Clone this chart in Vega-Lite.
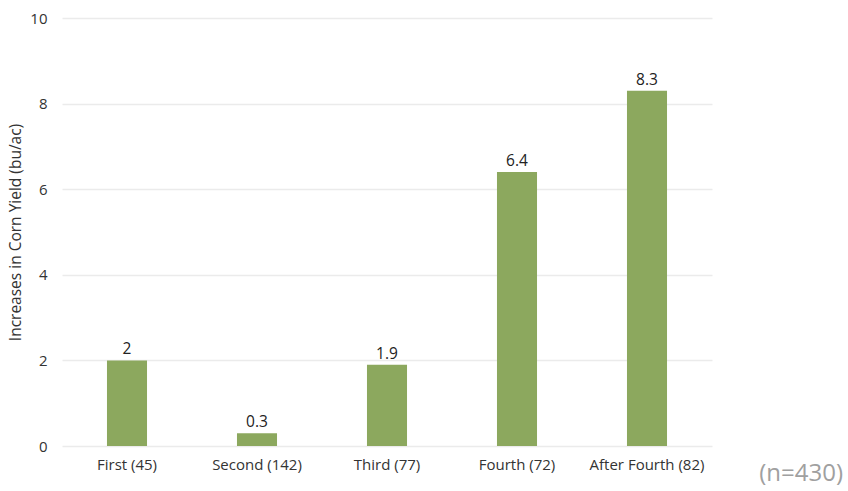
{
  "$schema": "https://vega.github.io/schema/vega-lite/v6.json",
  "autosize": "none",
  "width": 650,
  "height": 428,
  "padding": {"left": 62, "top": 18, "right": 136, "bottom": 45},
  "background": "white",
  "config": {
    "font": "Open Sans",
    "view": {"stroke": null},
    "axis": {"labelFont": "Open Sans", "titleFont": "Open Sans"}
  },
  "title": {
    "text": "(n=430)",
    "orient": "bottom",
    "anchor": "end",
    "frame": "group",
    "dx": 131,
    "offset": -10,
    "fontSize": 24,
    "fontWeight": "normal",
    "color": "#a0a0a0",
    "font": "Open Sans"
  },
  "data": {
    "values": [
      {"stage": "First (45)", "value": 2},
      {"stage": "Second (142)", "value": 0.3},
      {"stage": "Third (77)", "value": 1.9},
      {"stage": "Fourth (72)", "value": 6.4},
      {"stage": "After Fourth (82)", "value": 8.3}
    ]
  },
  "encoding": {
    "x": {
      "field": "stage",
      "type": "nominal",
      "sort": null,
      "scale": {"paddingInner": 0.692, "paddingOuter": 0.346},
      "axis": {
        "title": null,
        "labelAngle": 0,
        "labelFontSize": 15,
        "labelColor": "#333",
        "labelPadding": 11,
        "ticks": false,
        "domain": false
      }
    },
    "y": {
      "field": "value",
      "type": "quantitative",
      "scale": {"domain": [0, 10]},
      "axis": {
        "title": "Increases in Corn Yield (bu/ac)",
        "titleFontSize": 15.5,
        "titleFontWeight": "normal",
        "titleColor": "#333",
        "titlePadding": 6,
        "values": [0, 2, 4, 6, 8, 10],
        "labelFontSize": 15,
        "labelColor": "#333",
        "labelPadding": 15,
        "ticks": false,
        "domain": false,
        "gridColor": "#ebebeb",
        "gridWidth": 1.5
      }
    }
  },
  "layer": [
    {"mark": {"type": "bar", "color": "#8ca85e"}},
    {
      "mark": {"type": "text", "fontSize": 15.5, "color": "#222", "baseline": "bottom", "dy": -3},
      "encoding": {"text": {"field": "value", "type": "quantitative"}}
    }
  ]
}
